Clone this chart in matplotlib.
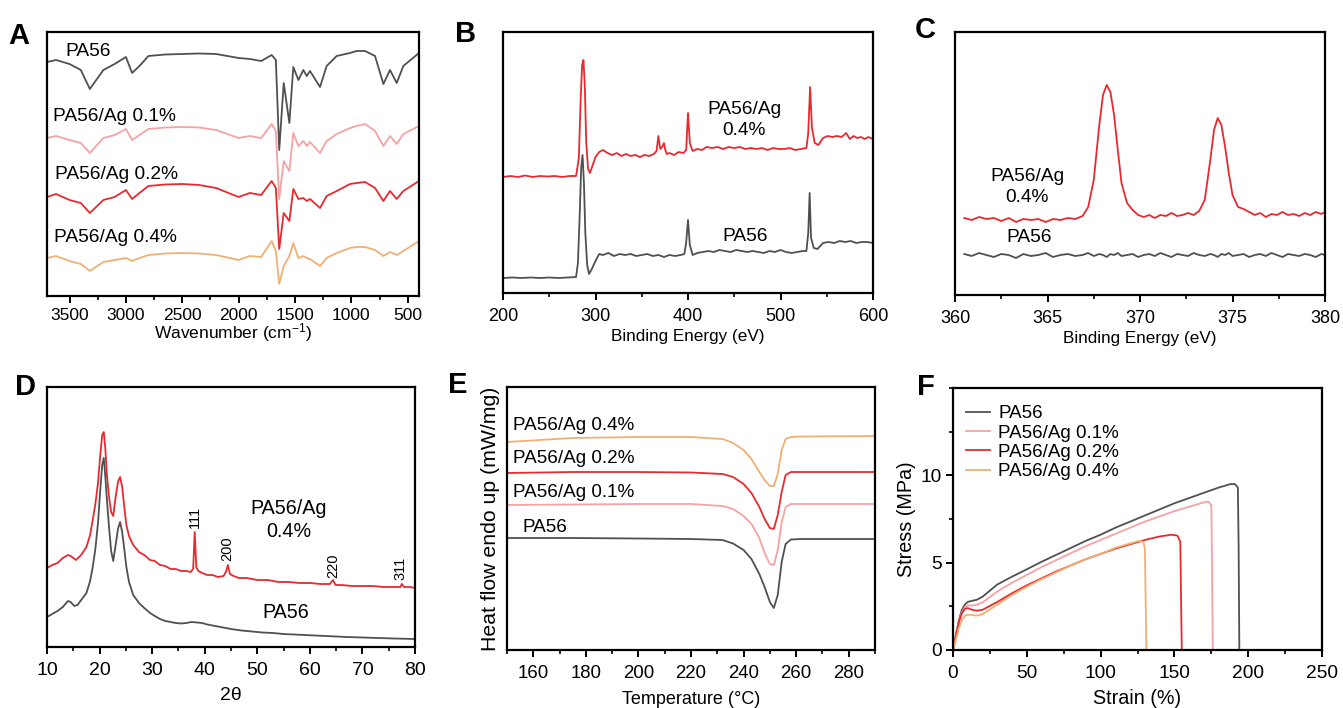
import matplotlib
matplotlib.use("Agg")
from matplotlib import pyplot as plt
from matplotlib.ticker import MultipleLocator
import numpy as np

plt.rcParams['font.family'] = ['Liberation Sans', 'DejaVu Sans']
plt.rcParams['mathtext.fontset'] = 'custom'
plt.rcParams['mathtext.rm'] = 'Liberation Sans'
plt.rcParams['mathtext.it'] = 'Liberation Sans:italic'

C_PA56 = '#505050'
C_01 = '#f6a2a4'
C_02 = '#e8292f'
C_04 = '#f1b072'

# ---------- A: FTIR (offset intensities, a.u.) ----------
ftir_wn = [3700, 3620, 3500, 3400, 3320, 3200, 3100, 3000, 2945, 2880,
           2800, 2650, 2500, 2350, 2200, 2000, 1900, 1800, 1707, 1670,
           1640, 1600, 1550, 1515, 1470, 1426, 1396, 1367, 1278, 1219,
           1130, 1012, 953, 879, 790, 716, 657, 598, 539, 400]
ftir_pa56 = [234, 236, 232, 226, 207, 226, 232, 239, 223, 230,
             240, 241.5, 242, 242.5, 242, 238, 237, 235, 241, 236,
             146, 213, 173, 229, 216, 226, 220, 225, 209, 230,
             240, 243, 245, 245, 240, 212, 226, 213, 230, 243]
ftir_01 = [158, 160, 156, 153, 143, 158, 161, 167, 156, 161,
           167, 168.5, 169, 168.5, 166, 158, 160, 158, 172, 165,
           97, 135, 125, 163, 150, 155, 150, 154, 143, 155,
           162, 168, 170, 172, 165, 150, 160, 152, 162, 170]
ftir_02 = [99, 102, 96, 93, 83, 96, 99, 106, 97, 103,
           110, 111.5, 112, 111, 108, 99, 103, 101, 115, 108,
           47, 83, 75, 107, 97, 98, 95, 97, 88, 100,
           105, 112, 113, 114, 108, 95, 105, 97, 105, 115]
ftir_04 = [38, 40, 35, 32, 25, 34, 36, 38, 35, 38,
           41, 42.5, 43, 42.5, 41, 36, 40, 39, 55, 45,
           12, 30, 40, 53, 38, 40, 38, 37, 30, 38,
           43, 48, 49, 49, 46, 40, 44, 41, 45, 55]

# ---------- B: XPS survey ----------
xps_ag_be = [200, 208, 216, 224, 232, 240, 248, 256, 264, 272,
             279, 282, 284, 285.5, 287, 288.5, 290, 292, 294, 297,
             300, 304, 308, 313, 318, 323, 328, 333, 338, 343,
             348, 353, 358, 363, 366, 368, 370, 372, 374, 375.5,
             377, 380, 385, 390, 395, 398, 400, 402, 405, 410,
             415, 420, 426, 432, 438, 444, 450, 456, 462, 468,
             474, 480, 486, 492, 498, 504, 510, 516, 522, 528,
             530, 532, 534, 537, 541, 546, 551, 556, 561, 566,
             571, 575, 579, 583, 587, 591, 595, 600]
xps_ag = [116, 117, 116, 117.5, 116, 117, 116.5, 117, 116, 117,
          117, 135, 195, 228, 233, 205, 150, 124, 120, 128,
          136, 141, 143, 140, 138, 140, 137, 139, 137, 138,
          136, 138, 137, 139, 142, 157, 144, 146, 150, 143,
          139, 140, 138, 141, 140, 143, 180, 150, 142, 144,
          143, 146, 145, 146, 144, 146, 145, 146, 144, 145,
          144, 145, 143, 145, 144, 144, 145, 143, 144, 145,
          160, 206, 165, 150, 148, 155, 157, 156, 157, 156,
          160, 154, 157, 155, 156, 154, 156, 154]
xps_pa_be = [200, 210, 220, 230, 240, 250, 260, 270, 279, 281,
             283, 284.5, 286, 287.5, 289, 291, 293, 296, 300, 304,
             308, 314, 320, 326, 332, 338, 344, 350, 356, 362,
             368, 374, 380, 386, 392, 396, 398, 400, 402, 405,
             410, 416, 422, 428, 434, 440, 446, 452, 458, 464,
             470, 476, 482, 488, 494, 500, 506, 512, 518, 524,
             528, 530, 531.5, 533, 536, 540, 546, 552, 558, 564,
             570, 576, 582, 588, 594, 600]
xps_pa = [15, 15.5, 15, 15.5, 15, 15.5, 15, 15.5, 16, 30,
          80, 125, 138, 110, 60, 28, 19, 24, 32, 39,
          38, 40, 37, 39, 38, 39, 37, 38, 39, 37,
          38, 36, 38, 37, 38, 39, 50, 73, 48, 38,
          40, 41, 42, 41, 43, 42, 41, 43, 42, 41,
          42, 41, 40, 42, 41, 43, 41, 40, 41, 42,
          42, 60, 100, 55, 45, 44, 50, 51, 50, 52,
          51, 52, 50, 51, 51, 50]

# ---------- C: Ag 3d ----------
ag3d_be = [360.5, 360.9, 361.3, 361.7, 362.1, 362.5, 362.9, 363.3, 363.7, 364.1,
           364.5, 364.9, 365.3, 365.7, 366.1, 366.5, 366.9, 367.2, 367.5, 367.8,
           368.0, 368.2, 368.4, 368.6, 368.8, 369.0, 369.3, 369.6, 369.9, 370.2,
           370.5, 370.8, 371.1, 371.4, 371.7, 372.0, 372.3, 372.6, 372.9, 373.2,
           373.5, 373.8, 374.0, 374.2, 374.4, 374.6, 374.8, 375.0, 375.3, 375.6,
           375.9, 376.2, 376.5, 376.8, 377.1, 377.4, 377.7, 378.0, 378.3, 378.6,
           378.9, 379.2, 379.5, 379.8, 380.0]
ag3d_ag = [77, 75, 78, 76, 77, 74, 77, 73, 76, 75,
           76, 73, 76, 75, 77, 76, 79, 88, 115, 170,
           200, 210, 203, 180, 145, 112, 92, 85, 80, 78,
           80, 77, 80, 79, 82, 79, 80, 82, 80, 84,
           95, 135, 165, 177, 170, 148, 122, 100, 88, 86,
           83, 80, 82, 78, 81, 80, 83, 80, 81, 79,
           82, 80, 83, 81, 83]
ag3d_pa = [41, 39, 42, 40, 38, 41, 40, 37, 41, 39,
           40, 42, 38, 40, 41, 39, 40, 42, 39, 41,
           40, 38, 41, 40, 42, 39, 40, 41, 38, 40,
           41, 39, 42, 40, 38, 41, 40, 39, 42, 40,
           39, 41, 40, 38, 41, 40, 42, 39, 40, 41,
           38, 40, 41, 39, 42, 40, 38, 41, 40, 39,
           41, 40, 38, 41, 40]

# ---------- D: XRD ----------
xrd_ag_2t = [10, 11, 12, 13, 14, 14.5, 15.5, 16.5, 17.5, 18.2,
             18.7, 19.2, 19.7, 20.1, 20.5, 20.8, 21.1, 21.4, 21.8, 22.2,
             22.6, 23.0, 23.5, 23.9, 24.3, 24.7, 25.1, 25.6, 26.4, 27.5,
             28.5, 29.6, 30.5, 31.5, 32.5, 33.5, 34.5, 35.5, 36.5, 37.3,
             37.8, 38.1, 38.4, 38.8, 39.5, 40.5, 41.5, 42.5, 43.6, 44.1,
             44.4, 44.8, 45.5, 46.5, 48, 50, 52, 54, 56, 58,
             60, 62, 63.8, 64.4, 64.9, 66, 68, 70, 72, 74,
             76, 77.2, 77.5, 77.9, 79, 80]
xrd_ag = [79, 82, 84, 89, 92, 91, 87, 92, 100, 112,
          127, 143, 164, 190, 212, 215, 198, 172, 150, 135,
          131, 148, 165, 170, 160, 140, 122, 111, 102, 95,
          92, 87, 86, 82, 81, 78, 78, 76, 76, 75,
          78, 115, 80, 76, 74, 72, 72, 70, 71, 76,
          82, 73, 71, 69, 69, 67, 67, 65, 65, 64,
          64, 63, 63, 67, 62, 62, 61, 61, 61, 60,
          60, 60, 63, 60, 60, 59]
xrd_pa_2t = [10, 11, 12, 13, 14, 14.5, 15.2, 15.8, 16.5, 17.5,
             18.2, 18.7, 19.2, 19.7, 20.1, 20.5, 20.8, 21.1, 21.4, 21.8,
             22.2, 22.6, 23.0, 23.5, 23.9, 24.3, 24.7, 25.1, 25.6, 26.4,
             27.5, 28.5, 29.6, 30.5, 31.5, 32.5, 33.5, 34.5, 35.5, 36.5,
             37.5, 38.5, 39.5, 40.5, 42, 43.5, 45, 47, 49, 51,
             53, 55, 57, 59, 61, 63, 65, 67, 70, 73,
             76, 80]
xrd_pa = [30, 33, 36, 40, 46, 45, 41, 42, 47, 54,
          66, 80, 98, 124, 155, 182, 189, 170, 147, 120,
          96, 86, 100, 118, 125, 115, 98, 80, 65, 52,
          44, 39, 34, 31, 28, 26, 25, 24, 23.5, 24,
          25, 24.5, 24, 22.5, 21, 19.5, 18, 16.5, 15.5, 14.5,
          14, 13, 12.5, 12, 11.5, 11, 10.5, 10, 9.5, 9,
          8.5, 8]
xrd_peaks = [38.2, 44.2, 64.5, 77.3]
xrd_peak_h = [130, 98, 81, 79]
xrd_hkl = ['111', '200', '220', '311']

# ---------- E: DSC ----------
dsc_t = [150, 175, 200, 220, 232, 236, 240, 243, 246, 248,
         250, 251.5, 253, 254.5, 256, 258, 262, 290]
dsc_pa56 = [112, 112, 111.5, 111, 110, 106.5, 100, 91, 76, 63,
            48, 42, 55, 88, 106, 110.5, 111, 111]
dsc_01 = [145, 145.5, 146, 146, 144, 141, 134, 126, 112, 97,
          86, 85, 100, 128, 143, 146, 146, 146]
dsc_02 = [177, 178, 178, 177.5, 176, 173, 166, 157, 143, 131,
          122, 121, 135, 158, 175, 178, 178, 178]
dsc_04 = [208, 212, 213, 213, 211, 207, 200, 191, 178, 170,
          164, 164, 176, 200, 211, 213, 213.5, 214]

# ---------- F: tensile ----------
strain_pa56 = [0, 2, 4, 6, 8, 10, 13, 16, 20, 30, 40, 50, 60, 70, 80, 90, 100, 110,
               120, 130, 140, 150, 160, 170, 180, 188, 191, 193, 193.5, 194]
stress_pa56 = [0, 0.9, 1.7, 2.3, 2.6, 2.75, 2.82, 2.87, 3.05, 3.75, 4.2, 4.62, 5.05, 5.45,
               5.85, 6.25, 6.6, 7.0, 7.35, 7.7, 8.05, 8.4, 8.7, 9.0, 9.3, 9.5, 9.5, 9.3, 6.0, 0]
strain_01 = [0, 2, 4, 6, 8, 10, 13, 16, 20, 30, 40, 50, 60, 70, 80, 90, 100, 110,
             120, 130, 140, 150, 160, 170, 173, 175, 175.5, 176]
stress_01 = [0, 0.8, 1.6, 2.15, 2.45, 2.55, 2.55, 2.58, 2.72, 3.35, 3.85, 4.3, 4.75, 5.15,
             5.55, 5.95, 6.3, 6.65, 7.0, 7.35, 7.65, 7.95, 8.2, 8.45, 8.5, 8.3, 5.0, 0]
strain_02 = [0, 2, 4, 6, 8, 10, 13, 16, 20, 30, 40, 50, 60, 70, 80, 90, 100, 110,
             120, 130, 140, 148, 152, 154, 154.5, 155]
stress_02 = [0, 0.8, 1.6, 2.1, 2.35, 2.4, 2.3, 2.25, 2.3, 2.75, 3.25, 3.7, 4.1, 4.5,
             4.85, 5.2, 5.5, 5.8, 6.05, 6.3, 6.5, 6.6, 6.55, 6.2, 3.0, 0]
strain_04 = [0, 2, 4, 6, 8, 10, 13, 16, 20, 30, 40, 50, 60, 70, 80, 90, 100, 110,
             120, 126, 129, 130, 130.5, 131]
stress_04 = [0, 0.6, 1.25, 1.7, 1.95, 2.02, 2.0, 1.97, 2.05, 2.6, 3.15, 3.62, 4.05, 4.45,
             4.85, 5.2, 5.5, 5.85, 6.1, 6.25, 6.2, 5.8, 3.0, 0]

W, H = 1343, 708
fig = plt.figure(figsize=(W / 100, H / 100), dpi=100)


def px_axes(x0, y0, x1, y1):
    return fig.add_axes([x0 / W, 1 - y1 / H, (x1 - x0) / W, (y1 - y0) / H])


def style(ax, minor=None, yticks=False, size=13):
    for s in ax.spines.values():
        s.set_linewidth(1.6)
    ax.tick_params(which='major', direction='out', length=5, width=1.4, labelsize=size, pad=5.5)
    ax.tick_params(which='minor', direction='out', length=3, width=1.2)
    if minor is not None:
        ax.xaxis.set_minor_locator(MultipleLocator(minor))
    if not yticks:
        ax.set_yticks([])


def letter(x, y, s):
    fig.text(x / W, 1 - y / H, s, fontsize=21, fontweight='bold', va='baseline')


lw = 1.3
TXT = 13.8

# A
axA = px_axes(47, 32, 419, 296)
axA.plot(ftir_wn, ftir_pa56, color=C_PA56, lw=lw)
axA.plot(ftir_wn, ftir_01, color=C_01, lw=lw)
axA.plot(ftir_wn, ftir_02, color=C_02, lw=lw)
axA.plot(ftir_wn, ftir_04, color=C_04, lw=lw)
axA.set_xlim(3700, 400)
axA.set_ylim(0, 264)
axA.set_xticks([3500, 3000, 2500, 2000, 1500, 1000, 500])
style(axA, minor=250, size=12.5)
axA.tick_params(which='major', pad=3.5)
axA.set_xlabel('Wavenumber (cm$^{-1}$)', fontsize=12.5, labelpad=-1)
axA.text(3540, 244, 'PA56', fontsize=TXT, va='center')
axA.text(3647, 179, 'PA56/Ag 0.1%', fontsize=TXT, va='center')
axA.text(3630, 121, 'PA56/Ag 0.2%', fontsize=TXT, va='center')
axA.text(3635, 58, 'PA56/Ag 0.4%', fontsize=TXT, va='center')
letter(8, 44, 'A')

# B
axB = px_axes(503, 32, 873, 293)
axB.plot(xps_ag_be, xps_ag, color=C_02, lw=lw)
axB.plot(xps_pa_be, xps_pa, color=C_PA56, lw=lw)
axB.set_xlim(200, 600)
axB.set_ylim(0, 261)
axB.set_xticks([200, 300, 400, 500, 600])
style(axB, minor=50, size=13)
axB.set_xlabel('Binding Energy (eV)', fontsize=12.3, labelpad=3)
axB.text(461, 173, 'PA56/Ag\n0.4%', fontsize=TXT, ha='center', va='center', linespacing=1.25)
axB.text(462, 56, 'PA56', fontsize=TXT, ha='center', va='center')
letter(455, 42, 'B')

# C
axC = px_axes(955, 32, 1325, 295)
axC.plot(ag3d_be, ag3d_ag, color=C_02, lw=lw)
axC.plot(ag3d_be, ag3d_pa, color=C_PA56, lw=lw)
axC.set_xlim(360, 380)
axC.set_ylim(0, 263)
axC.set_xticks([360, 365, 370, 375, 380])
style(axC, minor=2.5, size=13)
axC.set_xlabel('Binding Energy (eV)', fontsize=12.3, labelpad=3)
axC.text(363.9, 108, 'PA56/Ag\n0.4%', fontsize=TXT, ha='center', va='center', linespacing=1.25)
axC.text(364.0, 58, 'PA56', fontsize=TXT, ha='center', va='center')
letter(915, 38, 'C')

# D
axD = px_axes(47, 387, 415, 647)
axD.plot(xrd_ag_2t, xrd_ag, color=C_02, lw=lw)
axD.plot(xrd_pa_2t, xrd_pa, color=C_PA56, lw=lw)
axD.set_xlim(10, 80)
axD.set_ylim(0, 260)
axD.set_xticks([10, 20, 30, 40, 50, 60, 70, 80])
style(axD, minor=5, size=14)
axD.set_xlabel('2θ', fontsize=14, labelpad=6)
for xp, hp, lab in zip(xrd_peaks, xrd_peak_h, xrd_hkl):
    axD.text(xp, hp, lab, fontsize=10.5, rotation=90, ha='center', va='center')
axD.text(56.0, 127, 'PA56/Ag\n0.4%', fontsize=14.2, ha='center', va='center', linespacing=1.25)
axD.text(55.4, 34, 'PA56', fontsize=14.2, ha='center', va='center')
letter(15, 395, 'D')

# E
axE = px_axes(507, 387, 875, 650)
axE.plot(dsc_t, dsc_04, color=C_04, lw=lw)
axE.plot(dsc_t, dsc_02, color=C_02, lw=lw)
axE.plot(dsc_t, dsc_01, color=C_01, lw=lw)
axE.plot(dsc_t, dsc_pa56, color=C_PA56, lw=lw)
axE.set_xlim(150, 290)
axE.set_ylim(0, 263)
axE.set_xticks([160, 180, 200, 220, 240, 260, 280])
style(axE, minor=10, size=13.4)
axE.set_xlabel('Temperature (°C)', fontsize=13, labelpad=7)
axE.set_ylabel('Heat flow endo up (mW/mg)', fontsize=15.3, labelpad=5)
axE.text(152.4, 225, 'PA56/Ag 0.4%', fontsize=13.6, va='center')
axE.text(152.4, 192, 'PA56/Ag 0.2%', fontsize=13.6, va='center')
axE.text(152.4, 158, 'PA56/Ag 0.1%', fontsize=13.6, va='center')
axE.text(155.8, 123, 'PA56', fontsize=13.6, va='center')
letter(448, 393, 'E')

# F
axF = px_axes(953, 388, 1322, 650)
axF.plot(strain_pa56, stress_pa56, color=C_PA56, lw=lw, label='PA56')
axF.plot(strain_01, stress_01, color=C_01, lw=lw, label='PA56/Ag 0.1%')
axF.plot(strain_02, stress_02, color=C_02, lw=lw, label='PA56/Ag 0.2%')
axF.plot(strain_04, stress_04, color=C_04, lw=lw, label='PA56/Ag 0.4%')
axF.set_xlim(0, 250)
axF.set_ylim(0, 15)
axF.set_xticks([0, 50, 100, 150, 200, 250])
axF.set_yticks([0, 5, 10])
style(axF, minor=25, yticks=True, size=13.8)
axF.yaxis.set_minor_locator(MultipleLocator(2.5))
axF.tick_params(axis='y', pad=3)
axF.set_xlabel('Strain (%)', fontsize=14.2, labelpad=5)
axF.set_ylabel('Stress (MPa)', fontsize=14.2, labelpad=3)
axF.legend(loc='upper left', frameon=False, fontsize=13.5, handlelength=1.25,
           handletextpad=0.45, labelspacing=0.12, borderaxespad=0.3,
           bbox_to_anchor=(0.0, 0.985))
letter(917, 395, 'F')

fig.savefig('out.png', dpi=100)
